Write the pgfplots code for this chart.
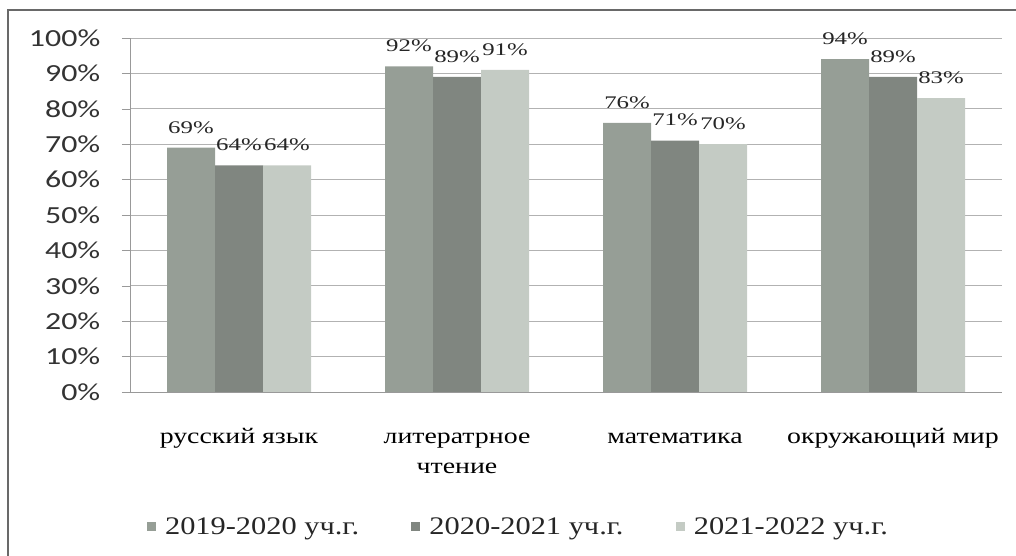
\documentclass[border=0pt]{standalone}
\usepackage{pgfplots}
\pgfplotsset{compat=1.18}
\usepackage{fontspec}
\setmainfont{Liberation Serif}
\newfontfamily\tickfam[FakeStretch=1.3]{Carlito}
\newfontfamily\labfam[FakeStretch=1.4]{Liberation Serif}
\newfontfamily\catfam[FakeStretch=1.25]{Liberation Serif}
\newfontfamily\legfam[FakeStretch=1.2]{Liberation Serif}
\definecolor{sA}{RGB}{150,158,150}
\definecolor{sB}{RGB}{128,134,128}
\definecolor{sC}{RGB}{196,203,196}
\definecolor{frame}{RGB}{105,105,105}
\begin{document}
\begin{tikzpicture}
\useasboundingbox (0,0) rectangle (762pt,417pt);
\draw[frame, line width=1.5pt] (6pt,0pt) -- (6pt,409.5pt) -- (762pt,409.5pt);
\begin{axis}[
  at={(97.5pt,123pt)}, anchor=south west,
  scale only axis, width=654pt, height=265.5pt,
  xmin=-0.5, xmax=3.5, ymin=0, ymax=100,
  axis x line*=bottom, axis y line*=left,
  axis line style={gray!80, line width=0.6pt},
  ybar=0pt, bar width=36pt,
  xtick={0,1,2,3},
  xticklabels={русский язык,{\begin{tabular}[t]{@{}c@{}}литератрное\\чтение\end{tabular}},математика,окружающий мир},
  xticklabel style={font=\catfam\fontsize{16.7}{22.5}\selectfont, anchor=base, yshift=-32.75pt},
  x tick style={draw=none},
  minor xtick={-0.5,0.5,1.5,2.5,3.5},
  minor x tick style={gray!80},
  tick align=outside, major tick length=6pt, minor tick length=5pt,
  ytick={0,10,...,100},
  yticklabels={0\%,10\%,20\%,30\%,40\%,50\%,60\%,70\%,80\%,90\%,100\%},
  yticklabel style={font=\tickfam\fontsize{18.4}{20}\selectfont, text=black!80, xshift=-12.75pt},
  y tick style={gray!80},
  ymajorgrids, grid style={gray!60, line width=0.6pt},
  nodes near coords={\labfam\fontsize{13.3}{15}\selectfont\pgfmathprintnumber[assume math mode=true]{\pgfplotspointmeta}\%},
  every node near coord/.append style={anchor=base, yshift=11pt, inner sep=0pt, text=black!85},
  legend columns=3,
  legend style={at={(0.4457,-0.381)}, anchor=center, draw=none, fill=none,
    font=\legfam\fontsize{19}{22}\selectfont, text=black!85,
    /tikz/every odd column/.append style={column sep=5pt},
    /tikz/every even column/.append style={column sep=37pt}},
  legend image code/.code={\fill[#1] (0pt,-3.4pt) rectangle (6.75pt,3.4pt);},
]
\addplot[fill=sA, draw=none] coordinates {(0,69) (1,92) (2,76) (3,94)};
\addplot[fill=sB, draw=none] coordinates {(0,64) (1,89) (2,71) (3,89)};
\addplot[fill=sC, draw=none] coordinates {(0,64) (1,91) (2,70) (3,83)};
\legend{2019-2020 уч.г.,2020-2021 уч.г.,2021-2022 уч.г.}
\end{axis}
\end{tikzpicture}
\end{document}
